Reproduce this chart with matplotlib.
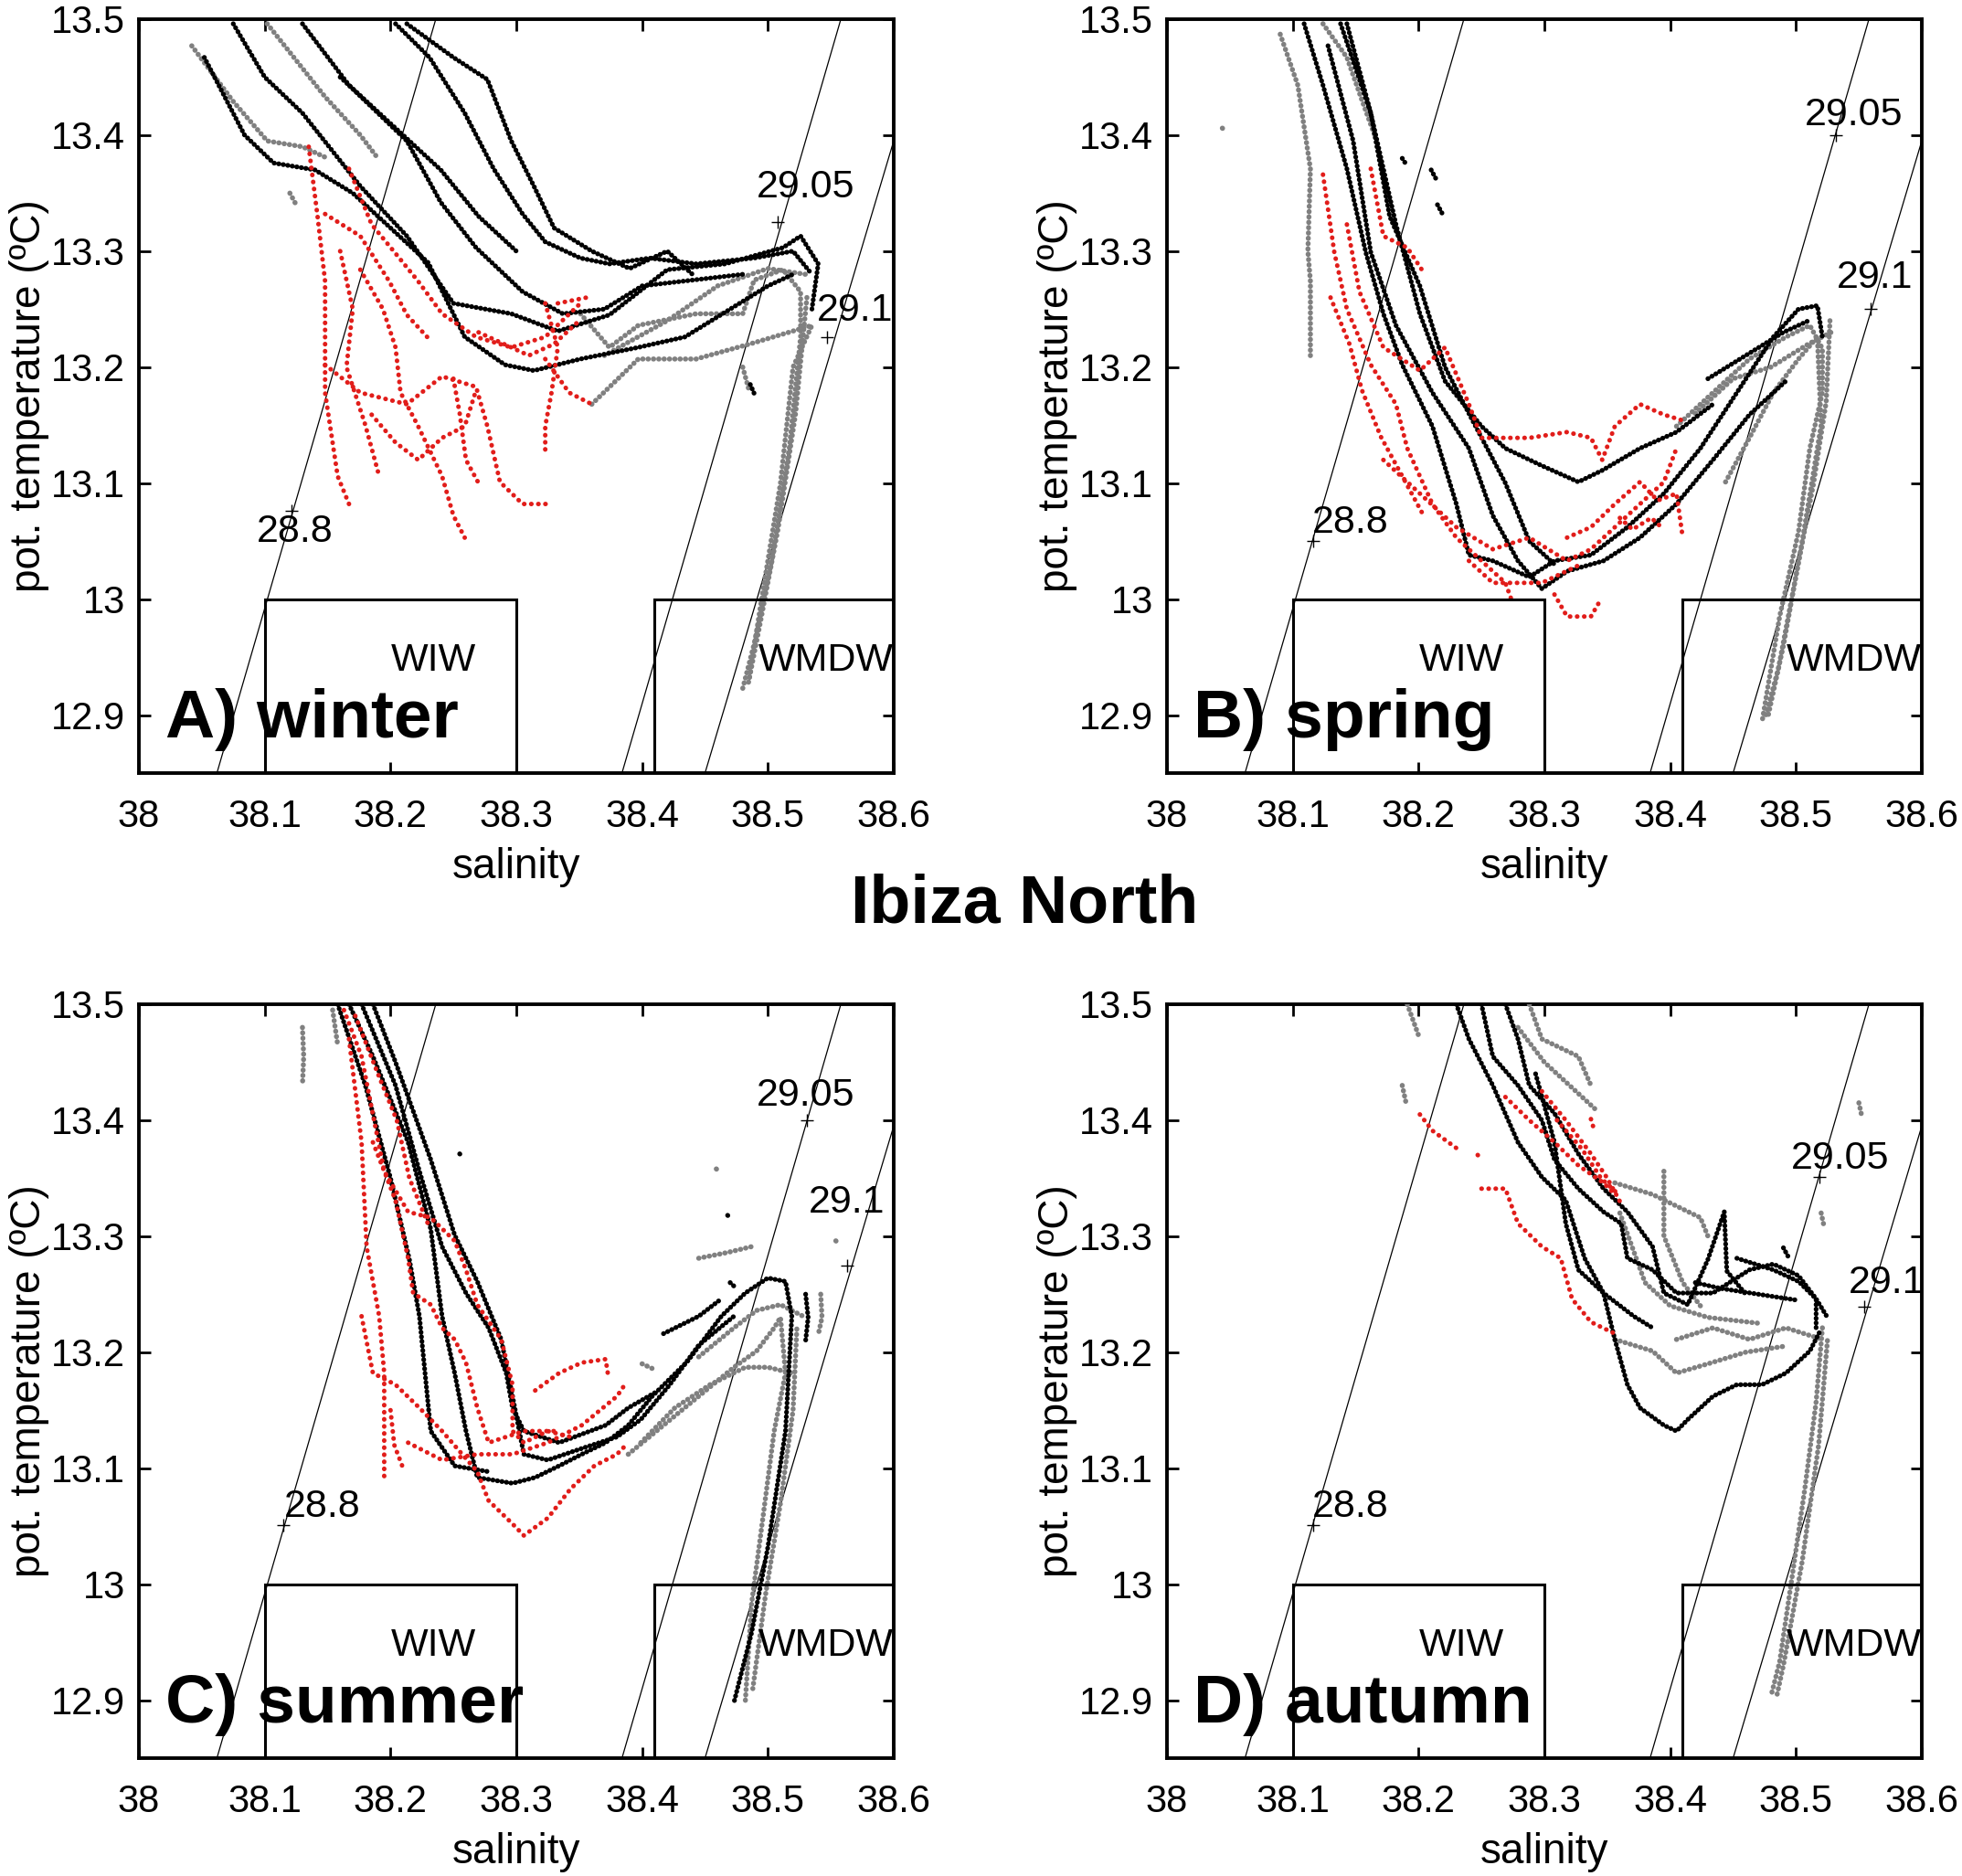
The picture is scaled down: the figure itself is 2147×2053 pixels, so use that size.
import numpy as np
import matplotlib.pyplot as plt
from matplotlib.patches import Rectangle

plt.rcParams['font.family'] = ['Liberation Sans', 'DejaVu Sans']

# axis ticks
sal_ticks = [38.0, 38.1, 38.2, 38.3, 38.4, 38.5, 38.6]
sal_labels = ['38', '38.1', '38.2', '38.3', '38.4', '38.5', '38.6']
temp_ticks = [12.9, 13.0, 13.1, 13.2, 13.3, 13.4, 13.5]
temp_labels = ['12.9', '13', '13.1', '13.2', '13.3', '13.4', '13.5']

# isopycnals (sigma-theta), end points
iso_names = ['28.8', '29.05', '29.1']
iso_ends = [[(38.062, 12.85), (38.236, 13.5)],
            [(38.384, 12.85), (38.558, 13.5)],
            [(38.450, 12.85), (38.600, 13.395)]]

# water mass boxes (S0, S1, T0, T1)
box_names = ['WIW', 'WMDW']
box_limits = [(38.10, 38.30, 12.85, 13.0), (38.41, 38.60, 12.85, 13.0)]
box_text_pos = [(38.234, 12.947), (38.546, 12.947)]

panel_titles = ['A) winter', 'B) spring', 'C) summer', 'D) autumn']

# label positions per panel: [plus marker (S,T), label centre (S,T)] for 28.8, 29.05, 29.1
iso_marks = [
    [[(38.121, 13.076), (38.124, 13.058)], [(38.508, 13.325), (38.530, 13.355)], [(38.547, 13.226), (38.569, 13.249)]],
    [[(38.116, 13.050), (38.146, 13.066)], [(38.532, 13.400), (38.546, 13.417)], [(38.559, 13.250), (38.563, 13.277)]],
    [[(38.115, 13.051), (38.146, 13.067)], [(38.531, 13.400), (38.530, 13.421)], [(38.563, 13.275), (38.563, 13.329)]],
    [[(38.116, 13.051), (38.146, 13.067)], [(38.519, 13.351), (38.535, 13.367)], [(38.554, 13.239), (38.572, 13.260)]],
]

# ---------------- winter ----------------
winter_black = [
    [(38.052, 13.467), (38.084, 13.40), (38.107, 13.376), (38.14, 13.37), (38.17, 13.35), (38.20, 13.32),
     (38.23, 13.29), (38.259, 13.226), (38.291, 13.202), (38.314, 13.197), (38.351, 13.207), (38.397, 13.217),
     (38.434, 13.226), (38.47, 13.25), (38.50, 13.27), (38.52, 13.28)],
    [(38.075, 13.496), (38.10, 13.45), (38.13, 13.419), (38.176, 13.356), (38.213, 13.313), (38.25, 13.255),
     (38.296, 13.246), (38.333, 13.231), (38.374, 13.245), (38.42, 13.284), (38.466, 13.289), (38.512, 13.303),
     (38.526, 13.313), (38.54, 13.289), (38.535, 13.25)],
    [(38.13, 13.496), (38.167, 13.443), (38.213, 13.395), (38.24, 13.342), (38.268, 13.303), (38.305, 13.265),
     (38.337, 13.246), (38.37, 13.25), (38.40, 13.27), (38.44, 13.275), (38.48, 13.28)],
    [(38.204, 13.496), (38.231, 13.467), (38.259, 13.419), (38.282, 13.371), (38.305, 13.332), (38.323, 13.308),
     (38.351, 13.294), (38.374, 13.289), (38.406, 13.294), (38.443, 13.289), (38.489, 13.294), (38.52, 13.30),
     (38.535, 13.28)],
    [(38.213, 13.496), (38.25, 13.467), (38.277, 13.448), (38.296, 13.395), (38.314, 13.356), (38.33, 13.32),
     (38.36, 13.30), (38.39, 13.285), (38.42, 13.30), (38.44, 13.28)],
    [(38.16, 13.45), (38.20, 13.41), (38.24, 13.37), (38.27, 13.33), (38.30, 13.30)],
    [(38.486, 13.185), (38.49, 13.175)],
]
winter_gray = [
    [(38.042, 13.477), (38.075, 13.429), (38.102, 13.395), (38.13, 13.39), (38.15, 13.38)],
    [(38.102, 13.496), (38.148, 13.433), (38.176, 13.40), (38.19, 13.38)],
    [(38.351, 13.246), (38.374, 13.217), (38.397, 13.236), (38.443, 13.246), (38.48, 13.246), (38.489, 13.275),
     (38.512, 13.284), (38.526, 13.265), (38.526, 13.226), (38.517, 13.13), (38.503, 13.033), (38.489, 12.961),
     (38.48, 12.923)],
    [(38.360, 13.168), (38.397, 13.207), (38.443, 13.207), (38.489, 13.221), (38.535, 13.236), (38.52, 13.20),
     (38.51, 13.10), (38.495, 13.00), (38.485, 12.93)],
    [(38.37, 13.21), (38.42, 13.24), (38.46, 13.27), (38.50, 13.285), (38.53, 13.28)],
    [(38.531, 13.26), (38.522, 13.16), (38.508, 13.06), (38.494, 12.98), (38.484, 12.925)],
    [(38.12, 13.35), (38.125, 13.34)],
    [(38.48, 13.20), (38.485, 13.18)],
]
winter_red = [
    [(38.135, 13.39), (38.142, 13.33), (38.148, 13.274), (38.148, 13.178), (38.158, 13.106), (38.167, 13.082)],
    [(38.167, 13.371), (38.185, 13.323), (38.204, 13.298), (38.222, 13.274), (38.241, 13.246), (38.268, 13.226),
     (38.296, 13.217), (38.323, 13.226), (38.351, 13.255)],
    [(38.176, 13.284), (38.194, 13.250), (38.204, 13.217), (38.208, 13.178), (38.222, 13.149), (38.241, 13.106),
     (38.25, 13.072), (38.259, 13.053)],
    [(38.148, 13.202), (38.176, 13.178), (38.213, 13.168), (38.241, 13.192), (38.268, 13.183), (38.277, 13.149),
     (38.287, 13.101), (38.305, 13.082), (38.328, 13.082)],
    [(38.185, 13.159), (38.204, 13.135), (38.222, 13.120), (38.241, 13.139), (38.259, 13.149), (38.268, 13.18)],
    [(38.323, 13.255), (38.333, 13.217), (38.328, 13.178), (38.323, 13.149), (38.323, 13.125)],
    [(38.333, 13.255), (38.356, 13.260)],
    [(38.323, 13.207), (38.342, 13.178), (38.360, 13.168)],
    [(38.148, 13.332), (38.176, 13.313), (38.199, 13.274), (38.213, 13.245), (38.23, 13.225)],
    [(38.16, 13.30), (38.17, 13.25), (38.165, 13.20), (38.18, 13.15), (38.19, 13.11)],
    [(38.27, 13.23), (38.29, 13.22), (38.31, 13.21), (38.33, 13.22), (38.35, 13.24)],
    [(38.25, 13.19), (38.255, 13.16), (38.26, 13.12), (38.27, 13.10)],
]

# ---------------- spring ----------------
spring_black = [
    [(38.109, 13.496), (38.124, 13.443), (38.143, 13.371), (38.158, 13.299), (38.172, 13.246), (38.187, 13.202),
     (38.211, 13.149), (38.230, 13.082), (38.240, 13.038), (38.259, 13.033), (38.288, 13.019), (38.308, 13.033),
     (38.337, 13.038), (38.366, 13.062), (38.395, 13.091), (38.424, 13.130), (38.453, 13.178), (38.482, 13.226),
     (38.502, 13.250), (38.517, 13.253), (38.521, 13.226)],
    [(38.143, 13.496), (38.162, 13.419), (38.182, 13.323), (38.201, 13.246), (38.221, 13.188), (38.250, 13.149),
     (38.269, 13.130), (38.298, 13.115), (38.327, 13.101), (38.346, 13.111), (38.376, 13.130), (38.405, 13.144),
     (38.434, 13.168)],
    [(38.128, 13.477), (38.148, 13.395), (38.162, 13.299), (38.182, 13.236), (38.211, 13.178), (38.240, 13.130),
     (38.259, 13.072), (38.279, 13.033), (38.298, 13.009), (38.318, 13.024), (38.347, 13.033), (38.376, 13.053),
     (38.405, 13.082), (38.434, 13.120), (38.463, 13.159), (38.492, 13.188)],
    [(38.138, 13.496), (38.162, 13.419), (38.177, 13.33), (38.201, 13.27), (38.221, 13.20), (38.240, 13.16),
     (38.269, 13.10), (38.288, 13.05), (38.308, 13.03)],
    [(38.21, 13.37), (38.215, 13.36)],
    [(38.215, 13.34), (38.22, 13.33)],
    [(38.187, 13.38), (38.19, 13.375)],
    [(38.43, 13.19), (38.46, 13.21), (38.49, 13.23), (38.51, 13.24)],
]
spring_gray = [
    [(38.090, 13.487), (38.104, 13.443), (38.114, 13.371), (38.112, 13.30), (38.114, 13.274), (38.114, 13.207)],
    [(38.124, 13.496), (38.143, 13.467), (38.155, 13.43), (38.165, 13.40)],
    [(38.405, 13.149), (38.434, 13.178), (38.463, 13.207), (38.492, 13.226), (38.511, 13.236), (38.521, 13.216),
     (38.521, 13.178), (38.511, 13.130), (38.502, 13.058), (38.487, 12.985), (38.473, 12.894)],
    [(38.444, 13.101), (38.463, 13.139), (38.482, 13.178), (38.502, 13.207), (38.517, 13.226), (38.52, 13.15),
     (38.505, 13.05), (38.49, 12.96), (38.478, 12.90)],
    [(38.42, 13.16), (38.45, 13.19), (38.48, 13.20), (38.51, 13.22), (38.528, 13.23)],
    [(38.527, 13.24), (38.524, 13.17), (38.514, 13.10), (38.500, 13.02), (38.486, 12.94), (38.476, 12.90)],
    [(38.044, 13.406), (38.045, 13.405)],
]
spring_red = [
    [(38.124, 13.366), (38.133, 13.299), (38.143, 13.250), (38.162, 13.202), (38.182, 13.168), (38.191, 13.130),
     (38.211, 13.082), (38.230, 13.053), (38.250, 13.033), (38.269, 13.014), (38.274, 12.999)],
    [(38.143, 13.323), (38.153, 13.265), (38.172, 13.217), (38.201, 13.197), (38.221, 13.217), (38.240, 13.168),
     (38.250, 13.139), (38.288, 13.139), (38.318, 13.144), (38.337, 13.139), (38.346, 13.120), (38.356, 13.149),
     (38.376, 13.168), (38.395, 13.159), (38.410, 13.154)],
    [(38.162, 13.371), (38.172, 13.313), (38.191, 13.303), (38.205, 13.28)],
    [(38.172, 13.120), (38.201, 13.091), (38.230, 13.062), (38.259, 13.043), (38.288, 13.053), (38.318, 13.033),
     (38.337, 13.043), (38.356, 13.062), (38.376, 13.082), (38.395, 13.101), (38.405, 13.130)],
    [(38.308, 13.004), (38.318, 12.985), (38.337, 12.985), (38.345, 13.0)],
    [(38.318, 13.053), (38.337, 13.062), (38.356, 13.082), (38.376, 13.101), (38.39, 13.085), (38.405, 13.091),
     (38.410, 13.053)],
    [(38.240, 13.033), (38.259, 13.014), (38.298, 13.014), (38.327, 13.029)],
    [(38.13, 13.26), (38.145, 13.22), (38.155, 13.18), (38.17, 13.14), (38.19, 13.10), (38.205, 13.07)],
    [(38.36, 13.07), (38.37, 13.06), (38.385, 13.07), (38.395, 13.06)],
]

# ---------------- summer ----------------
summer_black = [
    [(38.167, 13.5), (38.186, 13.455), (38.214, 13.381), (38.232, 13.306), (38.241, 13.231), (38.251, 13.182),
     (38.260, 13.132), (38.269, 13.092), (38.297, 13.087), (38.315, 13.092), (38.334, 13.102), (38.352, 13.112),
     (38.371, 13.122), (38.389, 13.137), (38.408, 13.162), (38.436, 13.192), (38.463, 13.231), (38.482, 13.251),
     (38.500, 13.264), (38.514, 13.261), (38.519, 13.231), (38.514, 13.132), (38.500, 13.032), (38.487, 12.958),
     (38.473, 12.898)],
    [(38.177, 13.5), (38.204, 13.430), (38.223, 13.356), (38.241, 13.291), (38.260, 13.251), (38.278, 13.221),
     (38.292, 13.182), (38.297, 13.152), (38.306, 13.132), (38.334, 13.122), (38.371, 13.137), (38.389, 13.152),
     (38.41, 13.165)],
    [(38.186, 13.5), (38.204, 13.450), (38.232, 13.366), (38.251, 13.301), (38.269, 13.261), (38.288, 13.211),
     (38.297, 13.162), (38.306, 13.112), (38.325, 13.107), (38.352, 13.117), (38.380, 13.127), (38.399, 13.142),
     (38.422, 13.172), (38.445, 13.206), (38.473, 13.231)],
    [(38.158, 13.5), (38.18, 13.43), (38.20, 13.35), (38.215, 13.28), (38.223, 13.231), (38.232, 13.132),
     (38.251, 13.102), (38.278, 13.097)],
    [(38.417, 13.216), (38.445, 13.231), (38.463, 13.246)],
    [(38.468, 13.318), (38.469, 13.317)],
    [(38.255, 13.371), (38.256, 13.370)],
    [(38.53, 13.25), (38.532, 13.23), (38.53, 13.21)],
    [(38.47, 13.26), (38.475, 13.255)],
]
summer_gray = [
    [(38.130, 13.480), (38.131, 13.455), (38.130, 13.430)],
    [(38.154, 13.495), (38.158, 13.465)],
    [(38.389, 13.112), (38.417, 13.137), (38.445, 13.162), (38.473, 13.187), (38.491, 13.201), (38.505, 13.221),
     (38.51, 13.23), (38.514, 13.182), (38.505, 13.132), (38.496, 13.057), (38.487, 12.983), (38.482, 12.898)],
    [(38.399, 13.122), (38.426, 13.152), (38.454, 13.172), (38.482, 13.187), (38.500, 13.187), (38.519, 13.182)],
    [(38.445, 13.196), (38.473, 13.221), (38.491, 13.236), (38.510, 13.241), (38.528, 13.231)],
    [(38.523, 13.22), (38.520, 13.15), (38.510, 13.07), (38.498, 12.99), (38.488, 12.91)],
    [(38.445, 13.281), (38.468, 13.286), (38.487, 13.291)],
    [(38.459, 13.358), (38.46, 13.357)],
    [(38.542, 13.25), (38.543, 13.23), (38.54, 13.215)],
    [(38.554, 13.296), (38.555, 13.295)],
    [(38.40, 13.19), (38.41, 13.185)],
]
summer_red = [
    [(38.163, 13.495), (38.177, 13.455), (38.186, 13.405), (38.195, 13.356), (38.214, 13.321), (38.232, 13.316),
     (38.251, 13.296), (38.260, 13.271), (38.269, 13.241), (38.288, 13.211), (38.297, 13.172), (38.297, 13.132),
     (38.306, 13.122), (38.325, 13.132), (38.343, 13.127)],
    [(38.167, 13.47), (38.177, 13.381), (38.181, 13.291), (38.191, 13.231), (38.195, 13.182), (38.195, 13.132),
     (38.195, 13.092)],
    [(38.186, 13.381), (38.204, 13.331), (38.214, 13.281), (38.218, 13.251), (38.232, 13.241), (38.241, 13.221),
     (38.251, 13.211), (38.260, 13.191), (38.269, 13.152), (38.278, 13.122), (38.306, 13.132), (38.334, 13.132)],
    [(38.177, 13.231), (38.186, 13.182), (38.204, 13.172), (38.223, 13.152), (38.241, 13.132), (38.269, 13.097),
     (38.278, 13.072), (38.297, 13.052), (38.306, 13.042), (38.325, 13.057), (38.343, 13.082), (38.362, 13.102),
     (38.380, 13.112), (38.389, 13.122)],
    [(38.315, 13.167), (38.334, 13.182), (38.352, 13.191), (38.371, 13.194), (38.373, 13.18)],
    [(38.214, 13.122), (38.241, 13.107), (38.269, 13.112), (38.297, 13.112), (38.325, 13.122), (38.352, 13.137),
     (38.380, 13.162), (38.385, 13.17)],
    [(38.172, 13.49), (38.19, 13.44), (38.205, 13.40), (38.215, 13.35), (38.23, 13.31)],
    [(38.20, 13.15), (38.203, 13.12), (38.21, 13.10)],
]

# ---------------- autumn ----------------
autumn_black = [
    [(38.230, 13.5), (38.240, 13.470), (38.259, 13.430), (38.279, 13.381), (38.298, 13.351), (38.317, 13.331),
     (38.332, 13.281), (38.347, 13.251), (38.356, 13.211), (38.366, 13.172), (38.376, 13.152), (38.395, 13.137),
     (38.405, 13.132), (38.414, 13.142), (38.434, 13.162), (38.453, 13.172), (38.473, 13.172), (38.492, 13.182),
     (38.511, 13.201), (38.52, 13.22)],
    [(38.250, 13.5), (38.259, 13.455), (38.279, 13.430), (38.298, 13.400), (38.308, 13.366), (38.327, 13.341),
     (38.347, 13.321), (38.361, 13.311), (38.366, 13.281), (38.386, 13.271), (38.405, 13.251), (38.434, 13.251),
     (38.463, 13.271), (38.482, 13.276), (38.502, 13.266), (38.516, 13.246), (38.516, 13.221)],
    [(38.269, 13.5), (38.279, 13.470), (38.288, 13.430), (38.308, 13.406), (38.327, 13.371), (38.347, 13.341),
     (38.366, 13.321), (38.386, 13.291), (38.395, 13.251), (38.414, 13.241), (38.43, 13.28), (38.443, 13.321),
     (38.445, 13.27), (38.46, 13.25)],
    [(38.453, 13.281), (38.482, 13.271), (38.502, 13.261), (38.516, 13.246), (38.525, 13.23)],
    [(38.293, 13.440), (38.308, 13.381), (38.317, 13.311), (38.327, 13.271), (38.347, 13.251), (38.371, 13.231),
     (38.386, 13.221)],
    [(38.49, 13.29), (38.495, 13.28)],
    [(38.42, 13.26), (38.44, 13.255), (38.47, 13.25), (38.50, 13.245)],
]
autumn_gray = [
    [(38.521, 13.221), (38.516, 13.157), (38.507, 13.082), (38.497, 13.007), (38.487, 12.933), (38.480, 12.903)],
    [(38.525, 13.21), (38.518, 13.12), (38.505, 13.02), (38.49, 12.93), (38.485, 12.905)],
    [(38.191, 13.5), (38.201, 13.470)],
    [(38.187, 13.43), (38.19, 13.415)],
    [(38.288, 13.5), (38.298, 13.470), (38.327, 13.455), (38.337, 13.430)],
    [(38.279, 13.480), (38.30, 13.45), (38.32, 13.43), (38.34, 13.41)],
    [(38.356, 13.346), (38.386, 13.336), (38.405, 13.326), (38.424, 13.316), (38.43, 13.30)],
    [(38.395, 13.356), (38.395, 13.30), (38.41, 13.26), (38.424, 13.24)],
    [(38.405, 13.211), (38.434, 13.221), (38.463, 13.211), (38.492, 13.221), (38.521, 13.211)],
    [(38.356, 13.211), (38.386, 13.201), (38.405, 13.182), (38.43, 13.19), (38.46, 13.20), (38.49, 13.205)],
    [(38.36, 13.32), (38.37, 13.29), (38.38, 13.26), (38.40, 13.24), (38.43, 13.23), (38.47, 13.225)],
    [(38.550, 13.415), (38.552, 13.405)],
    [(38.52, 13.32), (38.522, 13.31)],
]
autumn_red = [
    [(38.269, 13.420), (38.288, 13.400), (38.308, 13.381), (38.327, 13.361), (38.347, 13.346), (38.356, 13.336)],
    [(38.298, 13.425), (38.317, 13.400), (38.337, 13.371), (38.35, 13.35), (38.36, 13.33)],
    [(38.250, 13.341), (38.269, 13.341), (38.279, 13.311), (38.298, 13.291), (38.313, 13.281), (38.322, 13.246),
     (38.337, 13.226), (38.356, 13.216)],
    [(38.201, 13.405), (38.211, 13.391), (38.230, 13.376)],
    [(38.247, 13.37), (38.248, 13.369)],
    [(38.337, 13.401), (38.34, 13.39)],
    [(38.31, 13.40), (38.33, 13.375), (38.345, 13.35), (38.36, 13.335)],
]

season_data = [
    (winter_black, winter_gray, winter_red),
    (spring_black, spring_gray, spring_red),
    (summer_black, summer_gray, summer_red),
    (autumn_black, autumn_gray, autumn_red),
]

red = '#e11d1a'
grey = '#808080'

fig = plt.figure(figsize=(21.47, 20.53), dpi=100)
ax_w, ax_h = 0.3847, 0.4019
lefts = [0.0708, 0.5948, 0.0708, 0.5948]
bottoms = [0.5879, 0.5879, 0.0628, 0.0628]

for k in range(4):
    ax = fig.add_axes([lefts[k], bottoms[k], ax_w, ax_h])
    blacks, greys, reds = season_data[k]

    # isopycnals
    for ends in iso_ends:
        ax.plot([ends[0][0], ends[1][0]], [ends[0][1], ends[1][1]], color='black', lw=0.9, zorder=2)
    for (plus, lab), name in zip(iso_marks[k], iso_names):
        ax.plot(plus[0], plus[1], marker='+', color='black', ms=10, mew=1.0, zorder=3)
        ax.text(lab[0], lab[1], name, fontsize=31, ha='center', va='center', zorder=6)

    # water mass boxes
    for (s0, s1, t0, t1), name, pos in zip(box_limits, box_names, box_text_pos):
        ax.add_patch(Rectangle((s0, t0), s1 - s0, t1 - t0, fill=False, ec='black', lw=2.2, zorder=4))
        ax.text(pos[0], pos[1], name, fontsize=31, ha='center', va='center', zorder=6)

    # profiles
    for prof in greys:
        s, t = zip(*prof)
        ax.plot(s, t, color=grey, lw=4.0, ls=(0, (0.05, 1.0)), dash_capstyle='round', zorder=3)
    for prof in blacks:
        s, t = zip(*prof)
        ax.plot(s, t, color='black', lw=3.8, ls=(0, (0.05, 0.9)), dash_capstyle='round', zorder=3)
    for prof in reds:
        s, t = zip(*prof)
        ax.plot(s, t, color=red, lw=3.6, ls=(0, (0.05, 1.5)), dash_capstyle='round', zorder=3)

    ax.text(38.021, 12.881, panel_titles[k], fontsize=54, fontweight='bold', ha='left', va='baseline', zorder=7)

    ax.set_xlim(38.0, 38.6)
    ax.set_ylim(12.85, 13.5)
    ax.set_xticks(sal_ticks)
    ax.set_xticklabels(sal_labels)
    ax.set_yticks(temp_ticks)
    ax.set_yticklabels(temp_labels)
    ax.tick_params(direction='in', top=True, right=True, length=9, width=2, labelsize=30)
    ax.tick_params(axis='x', pad=20)
    ax.tick_params(axis='y', pad=11)
    for sp in ax.spines.values():
        sp.set_linewidth(2.8)
    ax.set_xlabel('salinity', fontsize=33)
    ax.set_ylabel('pot. temperature (ºC)', fontsize=33)
    ax.yaxis.set_label_coords(-0.119, 0.5)
    ax.xaxis.set_label_coords(0.5, -0.098)

fig.text(0.522, 0.5178, 'Ibiza North', fontsize=53, fontweight='bold', ha='center', va='center')

fig.savefig('out.png', dpi=100)
